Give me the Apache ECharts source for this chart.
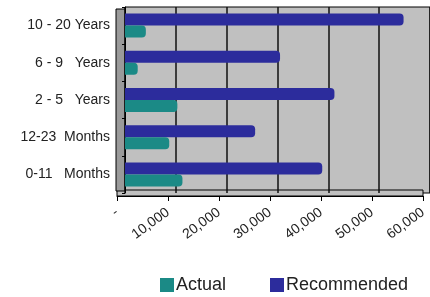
<!DOCTYPE html>
<html>
<head>
<meta charset="utf-8">
<script src="https://cdn.jsdelivr.net/npm/echarts@6.0.0/dist/echarts.min.js"></script>
<style>
  html, body { margin: 0; padding: 0; background: #fff; }
  #main { width: 430px; height: 297px; }
</style>
</head>
<body>
<div id="main"></div>
<script>
// categories bottom -> top
const categories = ['0-11   Months', '12-23  Months', '2 - 5   Years', '6 - 9   Years', '10 - 20 Years'];
const actual = [11300, 8700, 10300, 2500, 4100];
const recommended = [38800, 25600, 41200, 30500, 54800];
const xTicks = [0, 10000, 20000, 30000, 40000, 50000, 60000];

const chartDom = document.getElementById('main');
const myChart = echarts.init(chartDom);

const fmt = v => (v === 0 ? '-' : v.toLocaleString('en-US'));
const font = 'Liberation Sans, Arial, sans-serif';

const option = {
  animation: false,
  textStyle: { fontFamily: font },
  grid: [
    // back wall with bars
    { left: 125, right: -3, top: 7, bottom: 104, show: true, backgroundColor: '#c0c0c0', borderColor: '#000', borderWidth: 1 },
    // front floor edge carrying the labels
    { left: 117, right: 7, top: 190, bottom: 101, show: true, backgroundColor: '#c0c0c0', borderColor: '#000', borderWidth: 1 },
    // side wall
    { left: 116, width: 9, top: 9, bottom: 106, show: true, backgroundColor: '#9a9a9a', borderColor: '#000', borderWidth: 1 }
  ],
  legend: {
    bottom: -2,
    left: 155,
    itemWidth: 14,
    itemHeight: 14,
    itemGap: 44,
    icon: 'rect',
    textStyle: { fontSize: 18, color: '#222', fontFamily: font, padding: [0, 0, 0, -3] },
    data: ['Actual', 'Recommended']
  },
  xAxis: [
    {
      gridIndex: 0,
      type: 'value',
      min: 0,
      max: xTicks[xTicks.length - 1],
      interval: 10000,
      axisLabel: { show: false },
      axisLine: { show: false },
      axisTick: { show: false },
      splitLine: { lineStyle: { color: '#111', width: 1.5 } }
    },
    {
      gridIndex: 1,
      type: 'value',
      min: 0,
      max: xTicks[xTicks.length - 1],
      interval: 10000,
      axisLine: { show: true, lineStyle: { color: '#000' } },
      axisTick: { show: true, length: 5, lineStyle: { color: '#000' } },
      splitLine: { show: false },
      axisLabel: {
        rotate: 36,
        margin: 15,
        fontSize: 14,
        color: '#222',
        fontFamily: font,
        formatter: fmt
      }
    },
    { gridIndex: 2, type: 'value', show: false }
  ],
  yAxis: [
    {
      gridIndex: 0,
      type: 'category',
      data: categories,
      offset: 9,
      axisLine: { show: true, lineStyle: { color: '#000' } },
      axisTick: { show: true, length: 3, lineStyle: { color: '#000' } },
      axisLabel: { margin: 6, fontSize: 14, color: '#222', fontFamily: font, padding: [6, 0, 0, 0] }
    },
    { gridIndex: 1, type: 'value', show: false },
    { gridIndex: 2, type: 'value', show: false }
  ],
  series: [
    {
      name: 'Recommended',
      type: 'bar',
      xAxisIndex: 0,
      yAxisIndex: 0,
      data: recommended,
      barWidth: 12,
      barGap: '0%',
      itemStyle: { color: '#2c2c9c', borderRadius: [0, 4, 4, 0] }
    },
    {
      name: 'Actual',
      type: 'bar',
      xAxisIndex: 0,
      yAxisIndex: 0,
      data: actual,
      barWidth: 12,
      barGap: '0%',
      itemStyle: { color: '#1b8a86', borderRadius: [0, 4, 4, 0] }
    }
  ]
};

option && myChart.setOption(option);
</script>
</body>
</html>
